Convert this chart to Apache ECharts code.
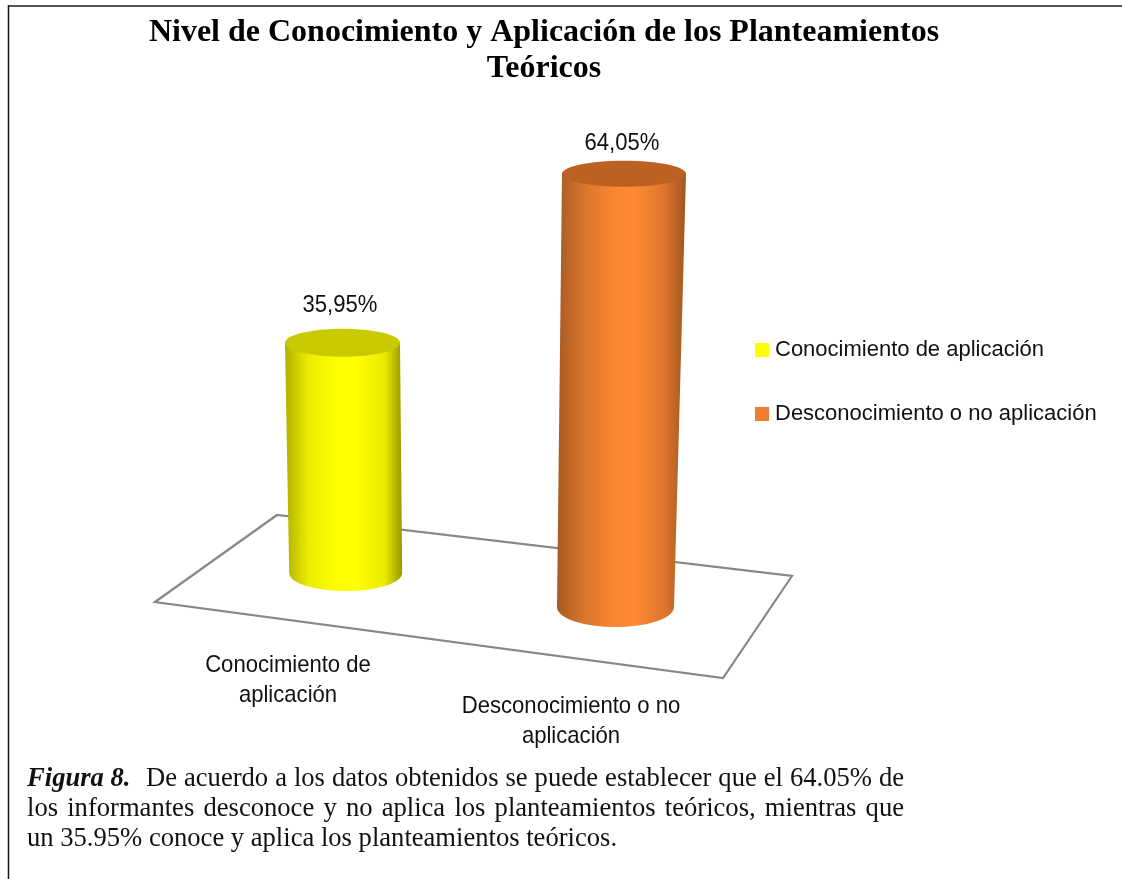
<!DOCTYPE html>
<html lang="es">
<head>
<meta charset="utf-8">
<title>Nivel de Conocimiento y Aplicación</title>
<style>
  html, body { margin: 0; padding: 0; background: #fff; }
  #grafica { width: 1122px; height: 879px; }
</style>
<script src="https://cdn.jsdelivr.net/npm/echarts@6/dist/echarts.min.js"></script>
</head>
<body>
<div id="grafica"></div>
<script>
// Datos
const categorias = ["Conocimiento de aplicación", "Desconocimiento o no aplicación"];
const etiquetasEje = ["Conocimiento de\naplicación", "Desconocimiento o no\naplicación"];
const valores = [35.95, 64.05];
const titulo = "Nivel de Conocimiento y Aplicación de los Planteamientos\nTeóricos";
const pie = [
  "los informantes desconoce y no aplica los planteamientos teóricos, mientras que",
  "un 35.95% conoce y aplica los planteamientos teóricos.",
];

// Aspecto de cada cilindro (desplazamientos respecto a la escala, por la perspectiva)
const formas = [
  {
    rxSup: 57.5, rySup: 14, dxSup: -0.5, rxInf: 56.5, ryInf: 18, dxInf: 2.7, dyInf: 14,
    tapa: "#c9c900", lados: ["#b0b000", "#ecec00", "#ffff00", "#ffff00", "#eaea00", "#989800"],
    leyenda: "#ffff00", valorEn: [-2.5, -37], etiqueta: [-55, 121],
  },
  {
    rxSup: 62, rySup: 13, dxSup: 3, rxInf: 58.5, ryInf: 20, dxInf: -5.5, dyInf: 48,
    tapa: "#bd6024", lados: ["#a65a22", "#d9742c", "#fb8732", "#ff8a35", "#d9742c", "#a0551f"],
    leyenda: "#ed7d31", valorEn: [-2, -30], etiqueta: [-50, 162],
  },
];

const fuenteSans = '"Liberation Sans", Arial, sans-serif';
const fuenteSerif = '"Liberation Serif", "Times New Roman", serif';

// El original tiene la letra algo comprimida a lo ancho
function textoEstrecho(texto, x, y) {
  return {
    type: "text",
    x: x,
    y: y,
    scaleX: 0.92,
    style: {
      text: texto,
      fill: "#111",
      fontFamily: fuenteSans,
      fontSize: 24,
      lineHeight: 30,
      align: "center",
      verticalAlign: "middle",
    },
  };
}

function cilindro(params, api) {
  const i = api.value(0);
  const f = formas[i];
  const tope = api.coord([i, api.value(1)]);
  const base = api.coord([i, 0]);

  const cxS = tope[0] + f.dxSup;
  const cyS = tope[1];
  const cxI = base[0] + f.dxInf;
  const cyI = base[1] + f.dyInf;

  const lado =
    `M ${cxS - f.rxSup} ${cyS} L ${cxI - f.rxInf} ${cyI} ` +
    `A ${f.rxInf} ${f.ryInf} 0 0 0 ${cxI + f.rxInf} ${cyI} ` +
    `L ${cxS + f.rxSup} ${cyS} Z`;

  const paradas = [0, 0.2, 0.45, 0.6, 0.85, 1].map((offset, n) => ({ offset, color: f.lados[n] }));

  return {
    type: "group",
    children: [
      {
        type: "path",
        shape: { pathData: lado },
        style: { fill: new echarts.graphic.LinearGradient(0, 0, 1, 0, paradas) },
      },
      {
        type: "ellipse",
        shape: { cx: cxS, cy: cyS, rx: f.rxSup, ry: f.rySup },
        style: { fill: f.tapa },
      },
      textoEstrecho(
        api.value(1).toFixed(2).replace(".", ",") + "%",
        cxS + f.valorEn[0],
        cyS + f.valorEn[1]
      ),
      textoEstrecho(etiquetasEje[i], base[0] + f.etiqueta[0], base[1] + f.etiqueta[1]),
    ],
  };
}

function medir(texto, fuente) {
  const ctx = document.createElement("canvas").getContext("2d");
  ctx.font = fuente;
  return ctx.measureText(texto).width;
}

// Línea justificada: cada palabra es un texto y el hueco se reparte entre ellas
function lineaJustificada(linea, x0, x1, y, tamano) {
  const palabras = linea.split(" ");
  const fuente = `${tamano}px ${fuenteSerif}`;
  const anchos = palabras.map((p) => medir(p, fuente));
  const hueco = (x1 - x0 - anchos.reduce((a, b) => a + b, 0)) / (palabras.length - 1);
  let x = x0;
  return palabras.map((p, n) => {
    const el = {
      type: "text",
      x: x,
      y: y,
      style: { text: p, font: fuente, fill: "#111", textVerticalAlign: "middle" },
    };
    x += anchos[n] + hueco;
    return el;
  });
}

function textoPie() {
  const tamano = 26.6;
  return [
    {
      type: "text",
      x: 27,
      y: 779,
      style: {
        text: "Figura 8.",
        font: `italic bold ${tamano}px ${fuenteSerif}`,
        fill: "#111",
        textVerticalAlign: "middle",
      },
    },
    ...lineaJustificada("De acuerdo a los datos obtenidos se puede establecer que el 64.05% de", 146, 904, 779, tamano),
    ...lineaJustificada(pie[0], 27, 904, 809, tamano),
    {
      type: "text",
      x: 27,
      y: 839,
      style: { text: pie[1], font: `${tamano}px ${fuenteSerif}`, fill: "#111", textVerticalAlign: "middle" },
    },
  ];
}

const dom = document.getElementById("grafica");
const myChart = echarts.init(dom, null, { renderer: "canvas" });

const option = {
  animation: false,
  backgroundColor: "#fff",
  title: {
    text: titulo,
    left: 539,
    top: 10,
    textAlign: "center",
    textStyle: {
      fontFamily: fuenteSerif,
      fontWeight: "bold",
      fontSize: 32,
      lineHeight: 36,
      color: "#000",
    },
  },
  legend: {
    orient: "vertical",
    left: 750,
    top: 334,
    itemWidth: 14,
    itemHeight: 14,
    itemGap: 42,
    icon: "rect",
    selectedMode: false,
    textStyle: { fontFamily: fuenteSans, fontSize: 22, color: "#111", padding: [0, 0, 0, 1] },
    data: categorias,
  },
  grid: { left: 204, top: 138, width: 556, height: 421 },
  xAxis: { type: "category", data: categorias, show: false },
  yAxis: { type: "value", min: 0, max: 70, show: false },
  series: categorias.map((nombre, i) => ({
    name: nombre,
    type: "custom",
    coordinateSystem: "cartesian2d",
    clip: false,
    itemStyle: { color: formas[i].leyenda },
    encode: { x: 0, y: 1 },
    renderItem: cilindro,
    data: [[i, valores[i]]],
  })),
  graphic: {
    elements: [
      // marco de la figura
      { type: "line", shape: { x1: 8, y1: 6, x2: 1122, y2: 6 }, style: { stroke: "#555", lineWidth: 2 } },
      { type: "line", shape: { x1: 8.5, y1: 5, x2: 8.5, y2: 879 }, style: { stroke: "#111", lineWidth: 1.5 } },
      // plano del suelo
      {
        type: "polygon",
        z: -1,
        shape: { points: [[155, 602], [277, 515], [792, 576], [723, 678]] },
        style: { fill: "#fff", stroke: "#888", lineWidth: 2.2 },
      },
      ...textoPie(),
    ],
  },
};

myChart.setOption(option);
window.addEventListener("resize", () => myChart.resize());
</script>
</body>
</html>
